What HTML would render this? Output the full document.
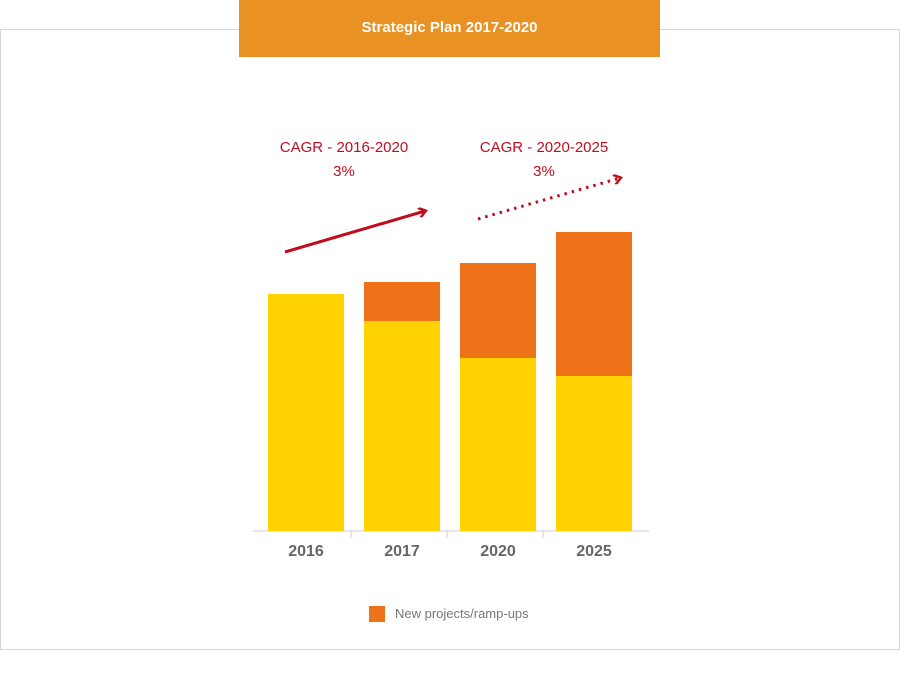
<!DOCTYPE html>
<html><head><meta charset="utf-8"><style>
body{margin:0;width:900px;height:690px;background:#fff;font-family:"Liberation Sans",sans-serif;position:relative;overflow:hidden}
.frame{position:absolute;left:0;top:29px;width:898px;height:619px;border:1px solid #d6d6d6}
.header{position:absolute;left:239px;top:0;width:421px;height:57px;background:#EA9123;color:#fff;font-weight:bold;font-size:15px;text-align:center;line-height:56px}
svg{position:absolute;left:0;top:0}
</style></head><body>
<div class="frame"></div>
<div class="header">Strategic Plan 2017-2020</div>
<svg id="chart" width="900" height="690">
<defs><marker id="ah" markerWidth="10" markerHeight="10" refX="7" refY="5" orient="auto" markerUnits="userSpaceOnUse"><path d="M1,0 L8,5 L1,10" fill="none" stroke="#C00D1E" stroke-width="2.5"/></marker></defs>
<line x1="285" y1="252" x2="425" y2="211" stroke="#C00D1E" stroke-width="3" marker-end="url(#ah)"/>
<line x1="478" y1="219" x2="620" y2="178" stroke="#C00D1E" stroke-width="3" stroke-dasharray="2.5,5" marker-end="url(#ah)"/>
<text x="344" y="152" text-anchor="middle" fill="#C00D1E" font-size="15">CAGR - 2016-2020</text>
<text x="344" y="176" text-anchor="middle" fill="#C00D1E" font-size="15">3%</text>
<text x="544" y="152" text-anchor="middle" fill="#C00D1E" font-size="15">CAGR - 2020-2025</text>
<text x="544" y="176" text-anchor="middle" fill="#C00D1E" font-size="15">3%</text>
<line x1="253" y1="531" x2="649" y2="531" stroke="#ccc"/>
<rect x="369" y="606" width="16" height="16" fill="#EE7318"/>
<text x="395" y="618" fill="#777" font-size="13">New projects/ramp-ups</text>
</svg>
<script>
const categories=["2016","2017","2020","2025"];
const baseValues=[237,210,173,155];
const newValues=[0,39,95,144];
const svg=document.getElementById('chart');
const NS="http://www.w3.org/2000/svg";
const x0=258,band=96,bw=76,y0=531,k=1;
function xPos(i){return x0+i*band;}
function yPos(v){return y0-v*k;}
function mk(tag,a){const e=document.createElementNS(NS,tag);for(const n in a)e.setAttribute(n,a[n]);svg.appendChild(e);return e;}
categories.forEach((c,i)=>{
  const bx=xPos(i)+(band-bw)/2;
  const b=mk('rect',{x:bx,y:yPos(baseValues[i]),width:bw,height:baseValues[i]*k,fill:'#FFD200'});
  
  
  if(newValues[i]>0){
    const o=mk('rect',{x:bx,y:yPos(baseValues[i]+newValues[i]),width:bw,height:newValues[i]*k,fill:'#EE7318'});
    
    
  }
  if(i>0){
    const t=mk('line',{x1:xPos(i)-3,y1:y0,x2:xPos(i)-3,y2:y0+7,stroke:'#ccc'});
    
    
  }
  const l=mk('text',{x:bx+bw/2,y:556,'text-anchor':'middle','font-size':'16','font-weight':'bold',fill:'#666'});
  l.textContent=c;
  
  
});
</script>
</body></html>
